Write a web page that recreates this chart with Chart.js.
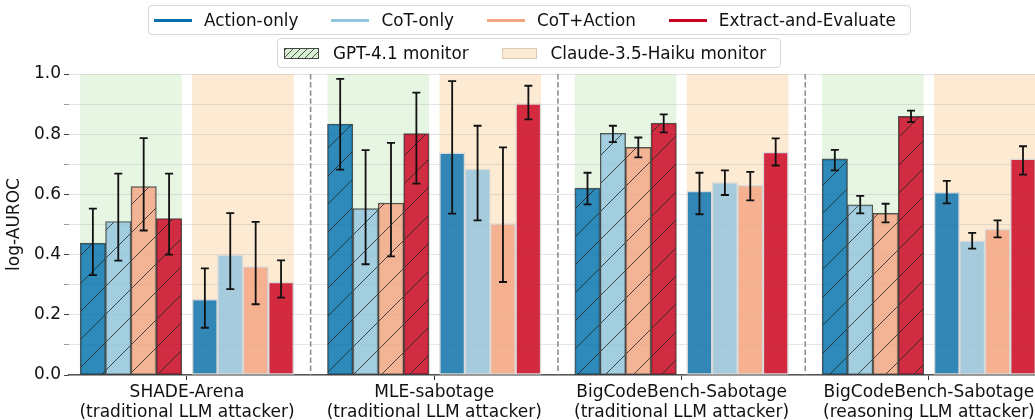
<!DOCTYPE html>
<html>
<head>
<meta charset="utf-8">
<script src="https://cdn.jsdelivr.net/npm/chart.js@4.4.1/dist/chart.umd.min.js"></script>
<style>
  body { margin: 0; background: #fff; font-family: "DejaVu Sans", sans-serif; }
  #wrap { position: relative; width: 1035px; height: 420px; }
  .legend { position: absolute; height: 30px; box-sizing: border-box; border: 1px solid #d8d8d8;
            border-radius: 4px; background: rgba(255,255,255,0.85); display: flex; align-items: center;
            font-size: 16.8px; color: #111; padding-left: 5px; white-space: nowrap; }
  .item { display: flex; align-items: center; margin-right: 33px; }
  .item:last-child { margin-right: 0; }
  .line { width: 38px; height: 3px; margin-right: 12px; }
  .patch { width: 35px; height: 11px; margin-right: 14px; box-sizing: border-box; }
</style>
</head>
<body>
<div id="wrap">
  <canvas id="auroc-chart" width="1035" height="420"></canvas>
  <div class="legend" id="legend-methods" style="left:148px; top:5px; width:763px;"></div>
  <div class="legend" id="legend-monitors" style="left:277px; top:38px; width:504px; padding-left:6px;"></div>
</div>
<script>
var categories = [
  ['SHADE-Arena', '(traditional LLM attacker)'],
  ['MLE-sabotage', '(traditional LLM attacker)'],
  ['BigCodeBench-Sabotage', '(traditional LLM attacker)'],
  ['BigCodeBench-Sabotage', '(reasoning LLM attacker)']
];
var methods = ['Action-only', 'CoT-only', 'CoT+Action', 'Extract-and-Evaluate'];
var monitors = ['GPT-4.1 monitor', 'Claude-3.5-Haiku monitor'];
var methodColors = ['#0571b0', '#92c5de', '#f4a582', '#ca0020'];

// log-AUROC per category, GPT-4.1 monitor
var gptAction  = [0.438, 0.834, 0.621, 0.718];
var gptCot     = [0.510, 0.553, 0.803, 0.565];
var gptCotAct  = [0.626, 0.571, 0.756, 0.537];
var gptExtract = [0.520, 0.802, 0.837, 0.859];
// log-AUROC per category, Claude-3.5-Haiku monitor
var claudeAction  = [0.251, 0.738, 0.611, 0.607];
var claudeCot     = [0.399, 0.684, 0.639, 0.446];
var claudeCotAct  = [0.360, 0.503, 0.630, 0.485];
var claudeExtract = [0.309, 0.902, 0.741, 0.718];

// error bar ends (low / high)
var gptActionLo  = [0.332, 0.682, 0.567, 0.680], gptActionHi  = [0.553, 0.984, 0.672, 0.748];
var gptCotLo     = [0.380, 0.368, 0.774, 0.537], gptCotHi     = [0.669, 0.747, 0.828, 0.595];
var gptCotActLo  = [0.480, 0.394, 0.723, 0.507], gptCotActHi  = [0.787, 0.771, 0.789, 0.569];
var gptExtractLo = [0.400, 0.636, 0.806, 0.840], gptExtractHi = [0.669, 0.938, 0.866, 0.878];
var claudeActionLo  = [0.157, 0.536, 0.534, 0.570], claudeActionHi  = [0.354, 0.976, 0.672, 0.645];
var claudeCotLo     = [0.285, 0.514, 0.598, 0.420], claudeCotHi     = [0.538, 0.828, 0.680, 0.472];
var claudeCotActLo  = [0.235, 0.309, 0.580, 0.457], claudeCotActHi  = [0.509, 0.756, 0.675, 0.514];
var claudeExtractLo = [0.257, 0.849, 0.696, 0.666], claudeExtractHi = [0.381, 0.961, 0.786, 0.760];

var yTicks = [0.0, 0.2, 0.4, 0.6, 0.8, 1.0];

var series = [
  [gptAction, gptCot, gptCotAct, gptExtract],
  [claudeAction, claudeCot, claudeCotAct, claudeExtract]
];
var seriesLo = [
  [gptActionLo, gptCotLo, gptCotActLo, gptExtractLo],
  [claudeActionLo, claudeCotLo, claudeCotActLo, claudeExtractLo]
];
var seriesHi = [
  [gptActionHi, gptCotHi, gptCotActHi, gptExtractHi],
  [claudeActionHi, claudeCotHi, claudeCotActHi, claudeExtractHi]
];

var BAR_W = 0.1027, GAP = 0.042;
var spanColors = ['#e6f6e3', '#fdead2'];

function withAlpha(hex, a) {
  var n = parseInt(hex.slice(1), 16);
  return 'rgba(' + (n >> 16) + ',' + ((n >> 8) & 255) + ',' + (n & 255) + ',' + a + ')';
}

function hatch(color) {
  var s = 28;
  var c = document.createElement('canvas');
  c.width = s; c.height = s;
  var g = c.getContext('2d');
  g.fillStyle = color;
  g.fillRect(0, 0, s, s);
  g.strokeStyle = 'rgba(35,35,35,0.8)';
  g.lineWidth = 1;
  g.beginPath();
  [-s, 0, s].forEach(function (o) { g.moveTo(o, s); g.lineTo(o + s, 0); });
  g.stroke();
  return g.createPattern(c, 'repeat');
}

function barOffset(m, k) {
  return m === 0 ? -(GAP / 2 + BAR_W * (3 - k + 0.5)) : GAP / 2 + BAR_W * (k + 0.5);
}

var datasets = [];
monitors.forEach(function (mon, m) {
  methods.forEach(function (name, k) {
    var fill = withAlpha(methodColors[k], 0.82);
    datasets.push({
      label: name + ' / ' + mon,
      data: series[m][k].map(function (v, i) { return { x: i + barOffset(m, k), y: v }; }),
      errLo: seriesLo[m][k],
      errHi: seriesHi[m][k],
      backgroundColor: m === 0 ? hatch(fill) : fill,
      borderColor: m === 0 ? 'rgba(30,30,30,0.75)' : 'rgba(215,215,215,0.9)',
      borderWidth: m === 0 ? 1.2 : 1.5,
      borderSkipped: false,
      grouped: false,
      barPercentage: 1,
      categoryPercentage: 1
    });
  });
});

var backdrop = {
  id: 'backdrop',
  beforeDraw: function (chart) {
    var ctx = chart.ctx, x = chart.scales.x, y = chart.scales.y;
    var top = y.getPixelForValue(1), bottom = y.getPixelForValue(0);
    ctx.save();
    categories.forEach(function (c, i) {
      monitors.forEach(function (mon, m) {
        var a = m === 0 ? i - GAP / 2 - 4 * BAR_W : i + GAP / 2;
        var x0 = x.getPixelForValue(a), x1 = x.getPixelForValue(a + 4 * BAR_W);
        ctx.fillStyle = spanColors[m];
        ctx.fillRect(x0, top, x1 - x0, bottom - top);
      });
    });
    ctx.restore();
  },
  beforeDatasetsDraw: function (chart) {
    var ctx = chart.ctx, x = chart.scales.x, y = chart.scales.y;
    ctx.save();
    ctx.strokeStyle = 'rgba(125,133,143,0.9)';
    ctx.lineWidth = 1.6;
    ctx.setLineDash([5.5, 2.6]);
    for (var i = 0; i < categories.length - 1; i++) {
      var px = x.getPixelForValue(i + 0.5);
      ctx.beginPath();
      ctx.moveTo(px, y.getPixelForValue(1));
      ctx.lineTo(px, y.getPixelForValue(0));
      ctx.stroke();
    }
    ctx.restore();
  },
  afterDatasetsDraw: function (chart) {
    var ctx = chart.ctx, y = chart.scales.y;
    ctx.save();
    ctx.strokeStyle = '#111';
    ctx.lineWidth = 1.8;
    chart.data.datasets.forEach(function (ds, d) {
      chart.getDatasetMeta(d).data.forEach(function (bar, j) {
        var yl = y.getPixelForValue(ds.errLo[j]), yh = y.getPixelForValue(ds.errHi[j]);
        ctx.beginPath();
        ctx.moveTo(bar.x, yl); ctx.lineTo(bar.x, yh);
        ctx.moveTo(bar.x - 4, yl); ctx.lineTo(bar.x + 4, yl);
        ctx.moveTo(bar.x - 4, yh); ctx.lineTo(bar.x + 4, yh);
        ctx.stroke();
      });
    });
    ctx.restore();
  }
};

var font = { family: 'DejaVu Sans', size: 17 };

new Chart(document.getElementById('auroc-chart').getContext('2d'), {
  type: 'bar',
  data: { datasets: datasets },
  options: {
    responsive: false,
    devicePixelRatio: 1,
    animation: false,
    layout: { padding: { top: 74, left: 0, right: 0, bottom: 0 } },
    plugins: { legend: { display: false }, tooltip: { enabled: false } },
    scales: {
      x: {
        type: 'linear',
        offset: false,
        min: -0.477,
        max: 3.429,
        afterBuildTicks: function (scale) {
          scale.ticks = categories.map(function (c, i) { return { value: i }; });
        },
        afterFit: function (scale) {
          scale.height = 45;
          scale.paddingLeft = 0;
          scale.paddingRight = 0;
        },
        ticks: {
          autoSkip: false,
          maxRotation: 0,
          padding: 2,
          color: '#111',
          font: font,
          callback: function (v) { return categories[v]; }
        },
        grid: { drawOnChartArea: false, drawTicks: true, tickLength: 5, tickColor: '#333', offset: false },
        border: { display: true, color: '#555', width: 1.6 }
      },
      y: {
        min: 0,
        max: 1,
        afterFit: function (scale) { scale.width = 69; },
        ticks: {
          stepSize: 0.1,
          padding: 3,
          color: '#111',
          font: font,
          callback: function (v) {
            var t = Math.round(v * 10) / 10;
            return yTicks.indexOf(t) >= 0 ? t.toFixed(1) : '';
          }
        },
        grid: {
          color: 'rgba(150,150,150,0.25)',
          lineWidth: 1,
          tickLength: 5,
          tickColor: function (c) {
            return yTicks.indexOf(Math.round(c.tick.value * 10) / 10) >= 0 ? '#444' : '#999';
          }
        },
        border: { display: false },
        title: { display: true, text: 'log-AUROC', color: '#111', font: font, padding: { top: 4, bottom: 0 } }
      }
    }
  },
  plugins: [backdrop]
});

// legends
var lm = document.getElementById('legend-methods');
methods.forEach(function (name, k) {
  var it = document.createElement('div');
  it.className = 'item';
  it.innerHTML = '<span class="line" style="background:' + methodColors[k] + '"></span><span>' + name + '</span>';
  lm.appendChild(it);
});
var lmon = document.getElementById('legend-monitors');
monitors.forEach(function (name, m) {
  var it = document.createElement('div');
  it.className = 'item';
  var style = m === 0
    ? 'background: repeating-linear-gradient(135deg, rgba(40,40,40,0.8) 0 1px, transparent 1px 5px), #d8efd3; border:1px solid #444;'
    : 'background:' + spanColors[1] + '; border:1px solid #d9c9b6;';
  it.innerHTML = '<span class="patch" style="' + style + '"></span><span>' + name + '</span>';
  lmon.appendChild(it);
});
</script>
</body>
</html>
